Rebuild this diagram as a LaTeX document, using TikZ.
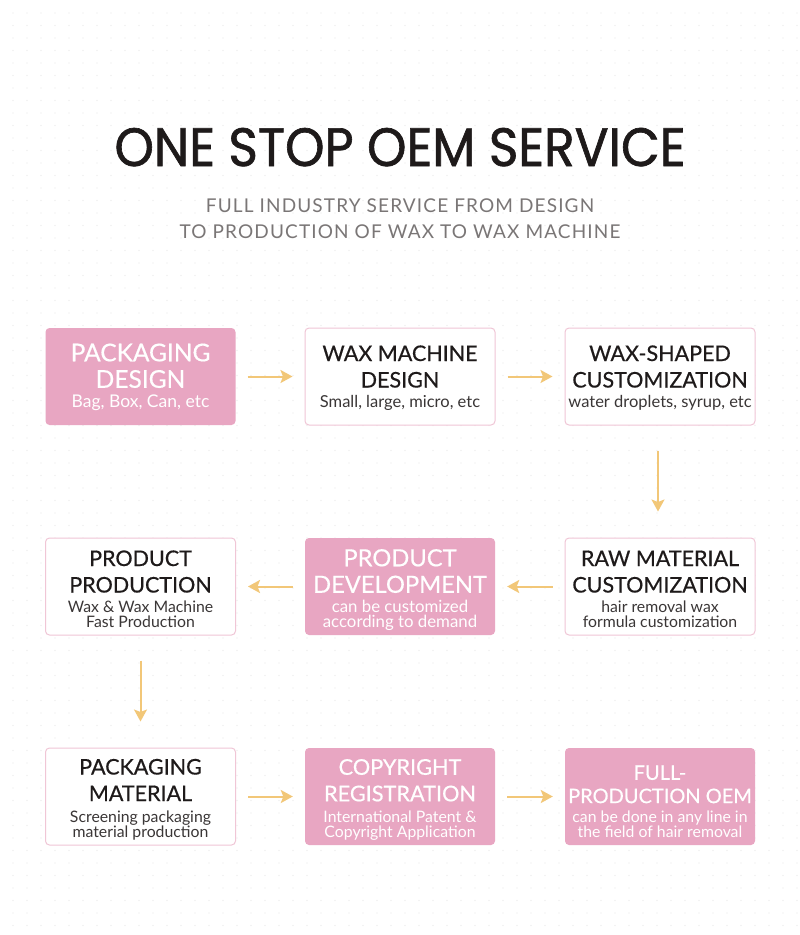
\documentclass[tikz,border=0pt]{standalone}
\usepackage{fontspec}
\setmainfont{Lato}
\newfontfamily\titlefont[FakeStretch=0.93,FakeBold=1.2]{Poppins}
\newfontfamily\subtitlefont[LetterSpace=6]{Lato}
\newfontfamily\headfont[FakeBold=0.5]{Lato}
\newfontfamily\smallfont{Lato}
\usetikzlibrary{arrows.meta}
\definecolor{pinkfill}{HTML}{E8A6C2}
\definecolor{pinkline}{HTML}{F0C6D6}
\definecolor{arrowgold}{HTML}{F2C778}
\definecolor{ink}{HTML}{1E1A1A}
\definecolor{subink}{HTML}{3A3636}
\definecolor{subgray}{HTML}{7A7676}
\definecolor{dotgray}{HTML}{E8E8E8}
\tikzset{
  box/.style={rectangle, rounded corners=4pt, minimum width=190pt, minimum height=97pt, inner sep=0pt},
  filledbox/.style={box, fill=pinkfill},
  plainbox/.style={box, draw=pinkline, line width=1pt, fill=white},
  hdtext/.style={anchor=base, inner sep=0pt, font=\headfont\fontsize{#1}{26.5}\selectfont},
  hdtext/.default=21.5,
  subtext/.style={anchor=base, inner sep=0pt, font=\smallfont\fontsize{#1}{15}\selectfont},
  subtext/.default=15.8,
  onpink/.style={text=white},
  onwhite/.style={text=ink},
  subwhite/.style={text=subink},
  flow/.style={draw=arrowgold, line width=2pt, -{Stealth[length=12pt,width=13pt,inset=2.5pt]}},
}
\newcommand{\stack}[1]{\vtop{\lineskiplimit=-100pt\def\\{\cr}\halign{\hfil##\hfil\cr#1\crcr}}}
\begin{document}
\begin{tikzpicture}[x=1pt,y=-1pt]
\useasboundingbox (0,0) rectangle (800,935);
\fill[white] (0,0) rectangle (800,935);
\foreach \i in {0,...,56}{
  \foreach \j in {0,...,74}{
    \fill[dotgray] (13+\i*14, 13+\j*12.5) circle (0.7pt);
  }
}
\node[font=\titlefont\fontsize{54}{60}\selectfont, text=ink, anchor=base, inner sep=0pt] (title) at (400,166) {ONE STOP OEM SERVICE};
\node[font=\subtitlefont\fontsize{19}{26}\selectfont, text=subgray, anchor=base, inner sep=0pt] (subtitle) at (400,212) {\stack{FULL INDUSTRY SERVICE FROM DESIGN\\TO PRODUCTION OF WAX TO WAX MACHINE}};

% boxes
\node[filledbox] (b1) at (140.5,376.5) {};
\node[plainbox]  (b2) at (400,376.5) {};
\node[plainbox]  (b3) at (660,376.5) {};
\node[plainbox]  (b4) at (140.5,586.5) {};
\node[filledbox] (b5) at (400,586.5) {};
\node[plainbox]  (b6) at (660,586.5) {};
\node[plainbox]  (b7) at (140.5,796.5) {};
\node[filledbox] (b8) at (400,796.5) {};
\node[filledbox] (b9) at (660,796.5) {};

% texts row 1
\node[hdtext=24.5,onpink]  (h1) at ([yshift=-33.5pt]b1.north) {\stack{PACKAGING\\DESIGN}};
\node[subtext=17.5,onpink] (s1) at ([yshift=-80pt]b1.north) {\stack{Bag, Box, Can, etc}};
\node[hdtext,onwhite] (h2) at ([yshift=-33.5pt]b2.north) {\stack{WAX MACHINE\\DESIGN}};
\node[subtext=16.5,subwhite] (s2) at ([yshift=-80pt]b2.north) {\stack{Small, large, micro, etc}};
\node[hdtext,onwhite] (h3) at ([yshift=-33.5pt]b3.north) {\stack{WAX-SHAPED\\CUSTOMIZATION}};
\node[subtext=16.5,subwhite] (s3) at ([yshift=-80pt]b3.north) {\stack{water droplets, syrup, etc}};
% row 2
\node[hdtext,onwhite] (h4) at ([yshift=-28.5pt]b4.north) {\stack{PRODUCT\\PRODUCTION}};
\node[subtext,subwhite] (s4) at ([yshift=-75pt]b4.north) {\stack{Wax \& Wax Machine\\Fast Production}};
\node[hdtext=23.7,onpink]  (h5) at ([yshift=-28.5pt]b5.north) {\stack{PRODUCT\\DEVELOPMENT}};
\node[subtext=16.8,onpink] (s5) at ([yshift=-75pt]b5.north) {\stack{can be customized\\according to demand}};
\node[hdtext,onwhite] (h6) at ([yshift=-28.5pt]b6.north) {\stack{RAW MATERIAL\\CUSTOMIZATION}};
\node[subtext,subwhite] (s6) at ([yshift=-75pt]b6.north) {\stack{hair removal wax\\formula customization}};
% row 3
\node[hdtext,onwhite] (h7) at ([yshift=-27pt]b7.north) {\stack{PACKAGING\\MATERIAL}};
\node[subtext,subwhite] (s7) at ([yshift=-74.5pt]b7.north) {\stack{Screening packaging\\material production}};
\node[hdtext=21.7,onpink]  (h8) at ([yshift=-27pt]b8.north) {\stack{COPYRIGHT\\REGISTRATION}};
\node[subtext,onpink] (s8) at ([yshift=-74.5pt]b8.north) {\stack{International Patent \&\\Copyright Application}};
\node[anchor=base, inner sep=0pt, font=\headfont\fontsize{20}{23.3}\selectfont, onpink] (h9) at ([yshift=-32pt]b9.north) {\stack{FULL-\\PRODUCTION OEM}};
\node[subtext,onpink] (s9) at ([yshift=-74.5pt]b9.north) {\stack{can be done in any line in\\the field of hair removal}};

% connectors
\draw[flow] ([xshift=12pt]b1.east) -- ([xshift=-12pt]b2.west);
\draw[flow] ([xshift=12pt]b2.east) -- ([xshift=-12pt]b3.west);
\draw[flow] ([xshift=-2pt,yshift=-25pt]b3.south) -- ([xshift=-2pt,yshift=26pt]b6.north);
\draw[flow] ([xshift=-12pt]b6.west) -- ([xshift=12pt]b5.east);
\draw[flow] ([xshift=-12pt]b5.west) -- ([xshift=12pt]b4.east);
\draw[flow] ([yshift=-25pt]b4.south) -- ([yshift=26pt]b7.north);
\draw[flow] ([xshift=12pt]b7.east) -- ([xshift=-12pt]b8.west);
\draw[flow] ([xshift=12pt]b8.east) -- ([xshift=-12pt]b9.west);
\end{tikzpicture}
\end{document}
